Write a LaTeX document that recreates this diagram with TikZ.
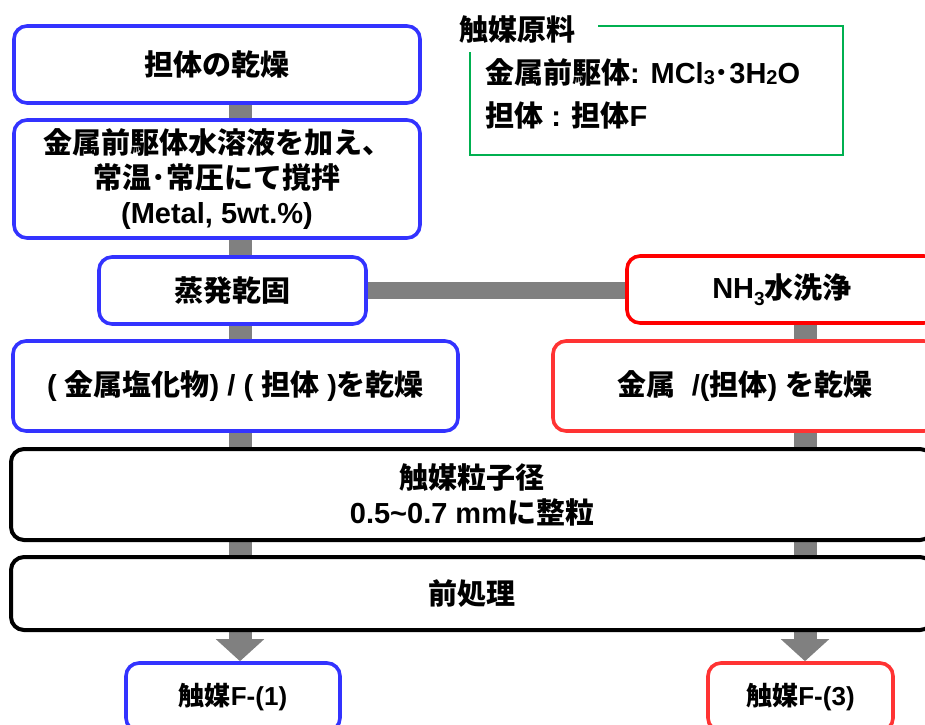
\documentclass[tikz,border=0pt]{standalone}
\usepackage{fontspec}
\setmainfont{Noto Sans CJK JP}
\newfontfamily\latf{Liberation Sans}
\usetikzlibrary{arrows.meta,backgrounds,calc}
\definecolor{bblue}{HTML}{3333FF}
\definecolor{rred}{HTML}{FF0000}
\definecolor{lred}{HTML}{FF3333}
\definecolor{ggreen}{HTML}{00B050}
\definecolor{cgray}{HTML}{808080}
\newcommand\LTx[1]{{\latf\bfseries #1}}
\newcommand\subx[1]{\raisebox{-0.25em}{\fontsize{19}{19}\selectfont #1}}
\newcommand\subs[1]{\raisebox{-0.05em}{\fontsize{20}{20}\selectfont #1}}
\tikzset{
  boxbase/.style={rounded corners=13pt, line width=3.6pt, fill=white, inner sep=0pt,
    align=center, font=\bfseries\fontsize{29}{35}\selectfont, text=black},
  bluebox/.style={boxbase, draw=bblue},
  redbox/.style={boxbase, draw=rred},
  lredbox/.style={boxbase, draw=lred},
  blackbox/.style={boxbase, draw=black, line width=4pt},
  plaintext/.style={inner sep=0pt, font=\bfseries\fontsize{29}{35}\selectfont},
  conn/.style={draw=cgray, line width=23pt},
  hconn/.style={draw=cgray, line width=17pt},
  arr/.style={conn, -{Triangle[length=22pt,width=47pt]}},
  frame/.style={draw=ggreen, line width=2.5pt}
}
\begin{document}
\begin{tikzpicture}[x=1pt,y=-1pt]
\useasboundingbox (0,0) rectangle (925,724);
\coordinate (cl) at (240,0);
\coordinate (cr) at (805,0);

\node[bluebox, minimum width=406pt, minimum height=77pt] (b1) at (217,64.5) {担体の乾燥};
\node[bluebox, minimum width=406pt, minimum height=118pt] (b2) at (217,179)
  {金属前駆体水溶液を加え、\\常温･常圧にて撹拌\\\LTx{(Metal, 5wt.\%)}};
\node[bluebox, minimum width=267pt, minimum height=67pt] (b3) at (232.5,290.5) {蒸発乾固};
\node[redbox, minimum width=310pt, minimum height=67pt] (b4) at (782,289.5) {\LTx{NH\subx{3}}水洗浄};
\node[bluebox, minimum width=445pt, minimum height=90pt] (b5) at (235.5,386)
  {\LTx{( }金属塩化物\LTx{) / ( }担体\LTx{ )}を乾燥};
\node[lredbox, minimum width=384pt, minimum height=90pt] (b6) at (745,386)
  {金属\LTx{ \ /(}担体\LTx{) }を乾燥};
\node[blackbox, minimum width=922pt, minimum height=91pt] (b7) at (472,494.5)
  {触媒粒子径\\\LTx{0.5\textasciitilde 0.7 mm}に整粒};
\node[blackbox, minimum width=922pt, minimum height=73pt] (b8) at (472,593.5) {前処理};
\node[bluebox, font=\bfseries\fontsize{26}{30}\selectfont, minimum width=214pt, minimum height=68pt] (b9) at (233,697) {触媒\LTx{F-(1)}};
\node[lredbox, font=\bfseries\fontsize{26}{30}\selectfont, minimum width=185pt, minimum height=68pt] (b10) at (800.5,697) {触媒\LTx{F-(3)}};

\node[plaintext] (gt) at (517,29) {触媒原料};
\draw[frame] (598,26) -- (843,26) -- (843,155) -- (470,155) -- (470,52);
\node[plaintext, anchor=west] (m1) at (485,72) {金属前駆体\LTx{: MCl\subs{3}}･\LTx{3H\subs{2}O}};
\node[plaintext, anchor=west] (m2) at (485,115) {担体\LTx{ : }担体\LTx{F}};

\begin{pgfonlayer}{background}
\draw[conn] (b1.south -| cl) -- (b2.north -| cl);
\draw[conn] (b2.south -| cl) -- (b3.north -| cl);
\draw[conn] (b3.south -| cl) -- (b5.north -| cl);
\draw[conn] (b5.south -| cl) -- (b7.north -| cl);
\draw[conn] (b7.south -| cl) -- (b8.north -| cl);
\draw[arr] (b8.south -| cl) -- (b9.north -| cl);
\draw[conn] (b4.south -| cr) -- (b6.north -| cr);
\draw[conn] (b6.south -| cr) -- (b7.north -| cr);
\draw[conn] (b7.south -| cr) -- (b8.north -| cr);
\draw[arr] (b8.south -| cr) -- (b10.north -| cr);
\draw[hconn] (b3.east) -- (b4.west |- b3.east);
\end{pgfonlayer}
\end{tikzpicture}
\end{document}
